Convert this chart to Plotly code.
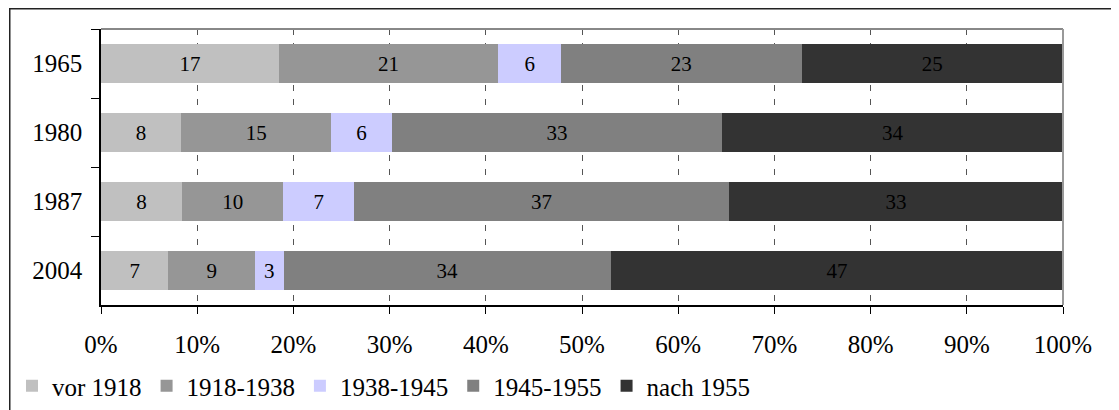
import plotly.graph_objects as go

years = ["1965", "1980", "1987", "2004"]
series_names = ["vor 1918", "1918-1938", "1938-1945", "1945-1955", "nach 1955"]
vor_1918 = [17, 8, 8, 7]
v1918_1938 = [21, 15, 10, 9]
v1938_1945 = [6, 6, 7, 3]
v1945_1955 = [23, 33, 37, 34]
nach_1955 = [25, 34, 33, 47]
colors = ["#C0C0C0", "#969696", "#CCCCFF", "#808080", "#333333"]
x_ticks = [0, 10, 20, 30, 40, 50, 60, 70, 80, 90, 100]

values = [vor_1918, v1918_1938, v1938_1945, v1945_1955, nach_1955]

FONT = "Liberation Serif, Times New Roman, serif"

fig = go.Figure()
for name, vals, col in zip(series_names, values, colors):
    fig.add_trace(go.Bar(
        y=years, x=vals, name=name, orientation="h",
        marker=dict(color=col, line=dict(width=0)),
        text=[str(v) for v in vals], textposition="inside",
        insidetextanchor="middle", textangle=0,
        textfont=dict(family=FONT, size=21, color="black"),
        constraintext="none", hoverinfo="skip",
    ))

# the page has an 8px body margin, so div coords = image coords - 8
OFF = 8
L, T = 101 - OFF, 29 - OFF
W, H = 1119, 410
pw, ph = 962, 276
R = W - L - pw
B = H - T - ph
plot_bottom = T + ph  # div coords

def py(img_y):
    return (plot_bottom - (img_y - OFF)) / ph

def px(img_x):
    return ((img_x - OFF) - L) / pw

fig.update_layout(
    width=W, height=H,
    margin=dict(l=L, r=R, t=T, b=B, pad=0, autoexpand=False),
    barmode="stack", barnorm="percent", bargap=0.435,
    plot_bgcolor="white", paper_bgcolor="white",
    font=dict(family=FONT, size=25, color="black"),
    showlegend=True,
    legend=dict(orientation="h", xref="container", yref="container",
                x=(12 - OFF) / W, xanchor="left",
                y=1 - (386 - OFF) / H, yanchor="middle",
                font=dict(family=FONT, size=25, color="black"),
                traceorder="normal", itemwidth=30, tracegroupgap=0,
                bgcolor="rgba(0,0,0,0)"),
    xaxis=dict(range=[0, 100], tickmode="array", tickvals=x_ticks,
               ticktext=[f"{v}%" for v in x_ticks], automargin=False,
               showline=True, linecolor="black", linewidth=1.5,
               ticks="outside", ticklen=7, tickcolor="black", tickwidth=1,
               ticklabelstandoff=9,
               showgrid=True, gridcolor="#555555", gridwidth=1, griddash="6px,8px",
               zeroline=False, tickfont=dict(family=FONT, size=25, color="black"),
               fixedrange=True),
    yaxis=dict(categoryorder="array", categoryarray=years, autorange="reversed",
               automargin=False,
               showline=True, linecolor="black", linewidth=1.5,
               ticks="outside", ticklen=8, tickcolor="black", tickson="boundaries",
               ticklabelstandoff=12,
               showgrid=False, zeroline=False,
               tickfont=dict(family=FONT, size=25, color="black"),
               fixedrange=True),
    shapes=[
        dict(type="line", xref="paper", yref="paper", x0=0, x1=1, y0=1, y1=1,
             line=dict(color="#888888", width=2), layer="above"),
        dict(type="line", xref="paper", yref="paper", x0=1, x1=1, y0=0, y1=1,
             line=dict(color="#999999", width=2), layer="above"),
        dict(type="line", xref="paper", yref="paper",
             x0=px(9), x1=px(W + 20),
             y0=py(8.75), y1=py(8.75),
             line=dict(color="#222222", width=1.5)),
        dict(type="line", xref="paper", yref="paper",
             x0=px(9.75), x1=px(9.75),
             y0=py(8), y1=py(H + 20),
             line=dict(color="#222222", width=1.5)),
    ],
)

fig.write_html("out.html")
